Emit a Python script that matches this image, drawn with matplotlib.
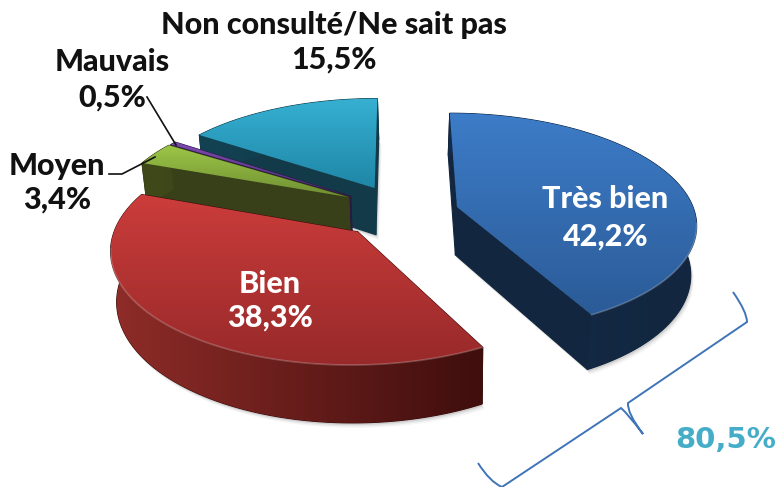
import numpy as np
import matplotlib
matplotlib.use("Agg")
import matplotlib.pyplot as plt
from matplotlib.colors import LinearSegmentedColormap
from matplotlib.patches import Polygon, PathPatch
from matplotlib.path import Path

# data
labels = ["Très bien", "Bien", "Moyen", "Mauvais", "Non consulté/Ne sait pas"]
values = [42.2, 38.3, 3.4, 0.5, 15.5]
value_labels = ["42,2%", "38,3%", "3,4%", "0,5%", "15,5%"]
total_label = "80,5%"

# look of each slice (top of face, bottom of face, side left, side right)
top_cols = [("#3d7cc8", "#2b5b97"), ("#cb3d3b", "#98292a"), ("#9cc646", "#708f33"),
            ("#7d4bb0", "#4f2c78"), ("#36b0d2", "#1f86a6")]
side_cols = [("#152b47", "#12263f"), ("#8f2c28", "#3e0e0d"), ("#3f4919", "#38401a"),
             ("#33204f", "#2a1a40"), ("#134252", "#123a49")]
centres = [(457, 0), (359, -53), (348, 22), (350, 24), (374, 43)]
side_dx = [-1.5, 0, 0, 0, 0]
draw_order = [4, 3, 2, 1, 0]

R = 236
Z = 48
TILT = 0.453
PERSP = 0.000593
VX, VY = 398, 207


def project(x, y, z=0.0):
    w = 1 / (1 + PERSP * y)
    sx = VX + (x - VX) * w
    if z:
        # lower edge pulls in a little
        sx = 450 + (sx - 450) * 0.982
    return sx, VY + (-y * TILT + z) * w


def rim(i, t0, t1, z=0.0):
    cx, cy = centres[i]
    t = np.radians(np.linspace(t0, t1, max(int(abs(t1 - t0)), 3)))
    return project(cx + R * np.sin(t), cy + R * np.cos(t), z)


def gradient_fill(ax, poly, cols, vertical, zorder, box=None):
    xy = np.asarray(poly)
    cmap = LinearSegmentedColormap.from_list("g", cols)
    grad = np.linspace(0, 1, 256)
    grad = grad[:, None] if vertical else grad[None, :]
    if box is None:
        box = (xy[:, 0].min(), xy[:, 0].max(), xy[:, 1].max(), xy[:, 1].min())
    im = ax.imshow(grad, cmap=cmap, extent=box, origin="upper", aspect="auto",
                   zorder=zorder, interpolation="bilinear")
    patch = Polygon(xy, closed=True, transform=ax.transData, fc="none", ec="none")
    ax.add_patch(patch)
    im.set_clip_path(patch)


fig = plt.figure(figsize=(7.78, 4.87), dpi=100)
ax = fig.add_axes([0, 0, 1, 1])
ax.axis("off")

ends = np.cumsum(values) / np.sum(values) * 360
starts = np.r_[0, ends[:-1]]

z = 2
for i in draw_order:
    t0, t1 = starts[i], ends[i]
    cx, cy = centres[i]
    ax0, ay0 = project(cx, cy)
    rx, ry = rim(i, t0, t1)
    bx, by = rim(i, t0, t1, Z)
    dx = side_dx[i]
    bx = bx + dx
    apex_b = project(cx, cy, Z)
    apex_b = (apex_b[0] + dx, apex_b[1])

    # body outline = lower rim and lower apex
    body = np.c_[np.r_[apex_b[0], bx], np.r_[apex_b[1], by]]
    wall0 = [(ax0, ay0), (rx[0], ry[0]), (bx[0], by[0]), apex_b]
    wall1 = [(ax0, ay0), (rx[-1], ry[-1]), (bx[-1], by[-1]), apex_b]
    outer = np.r_[np.c_[rx, ry], np.c_[bx, by][::-1]]

    # soft shadow
    if values[i] > 1:
        for off, al in [(5, 0.05), (3.5, 0.08), (2, 0.14)]:
            ax.add_patch(Polygon(body + [off * 0.6, off], closed=True, fc="#404040",
                                 ec="none", alpha=al, zorder=z))
        z += 1

    # solid under the side gradients closes the seams between them
    all_xy = np.vstack([wall0, wall1, outer])
    box = (all_xy[:, 0].min(), all_xy[:, 0].max(), all_xy[:, 1].max(), all_xy[:, 1].min())
    for w in (wall0, wall1):
        ax.add_patch(Polygon(w, closed=True, fc=side_cols[i][1], ec=side_cols[i][1],
                             lw=0.8, zorder=z))
    ax.add_patch(Polygon(outer, closed=True, fc=side_cols[i][1], ec=side_cols[i][1],
                         lw=0.8, zorder=z))
    gradient_fill(ax, outer, side_cols[i], False, z + 1, box)

    face = np.r_[[(ax0, ay0)], np.c_[rx, ry]]
    gradient_fill(ax, face, top_cols[i], True, z + 2)

    # light bevel on the front of the rim
    if values[i] > 20:
        front = ry > ay0 + 15
        ax.plot(rx[front], ry[front], color="white", alpha=0.22, lw=1.2, zorder=z + 3,
                solid_capstyle="round")
    z += 4

# labels on the pie
txt = dict(family="Lato", fontweight="black", ha="center", va="center", zorder=z + 1)
ax.text(605, 199, labels[0], color="white", fontsize=22, **txt)
ax.text(606, 237, value_labels[0], color="white", fontsize=22, **txt)
ax.text(270, 284, labels[1], color="white", fontsize=22, **txt)
ax.text(270, 318, value_labels[1], color="white", fontsize=22, **txt)

ax.text(57, 166, labels[2], color="#111111", fontsize=22, **txt)
ax.text(57, 200, value_labels[2], color="#111111", fontsize=22, **txt)
ax.text(112, 62, labels[3], color="#111111", fontsize=22, **txt)
ax.text(112, 98, value_labels[3], color="#111111", fontsize=22, **txt)
ax.text(334, 25, labels[4], color="#111111", fontsize=22, **txt)
ax.text(334, 60, value_labels[4], color="#111111", fontsize=22, **txt)

ax.text(726, 440, total_label, color="#46adc9", fontsize=21, family="DejaVu Sans",
        fontweight="bold", ha="center", va="center", zorder=z + 1)

# leader lines
ax.plot([147, 176], [97, 145], color="#111111", lw=1.2, zorder=z)
ax.plot([109, 122, 155], [174, 174, 157], color="#111111", lw=1.2, zorder=z)

# brace
brace = [(733, 292), (747, 312), (747, 322), (628, 403), (627, 413), (643, 434),
         (628, 414), (621, 408), (502, 487), (490, 482), (478, 463)]
codes = [Path.MOVETO, Path.CURVE3, Path.CURVE3, Path.LINETO, Path.CURVE3, Path.CURVE3,
         Path.CURVE3, Path.CURVE3, Path.LINETO, Path.CURVE3, Path.CURVE3]
ax.add_patch(PathPatch(Path(brace, codes), fc="none", ec="#3f74b8", lw=1.4, zorder=z,
                       clip_on=False))

ax.set_xlim(0, 778)
ax.set_ylim(487, 0)
fig.savefig("out.png", dpi=100, facecolor="white")
